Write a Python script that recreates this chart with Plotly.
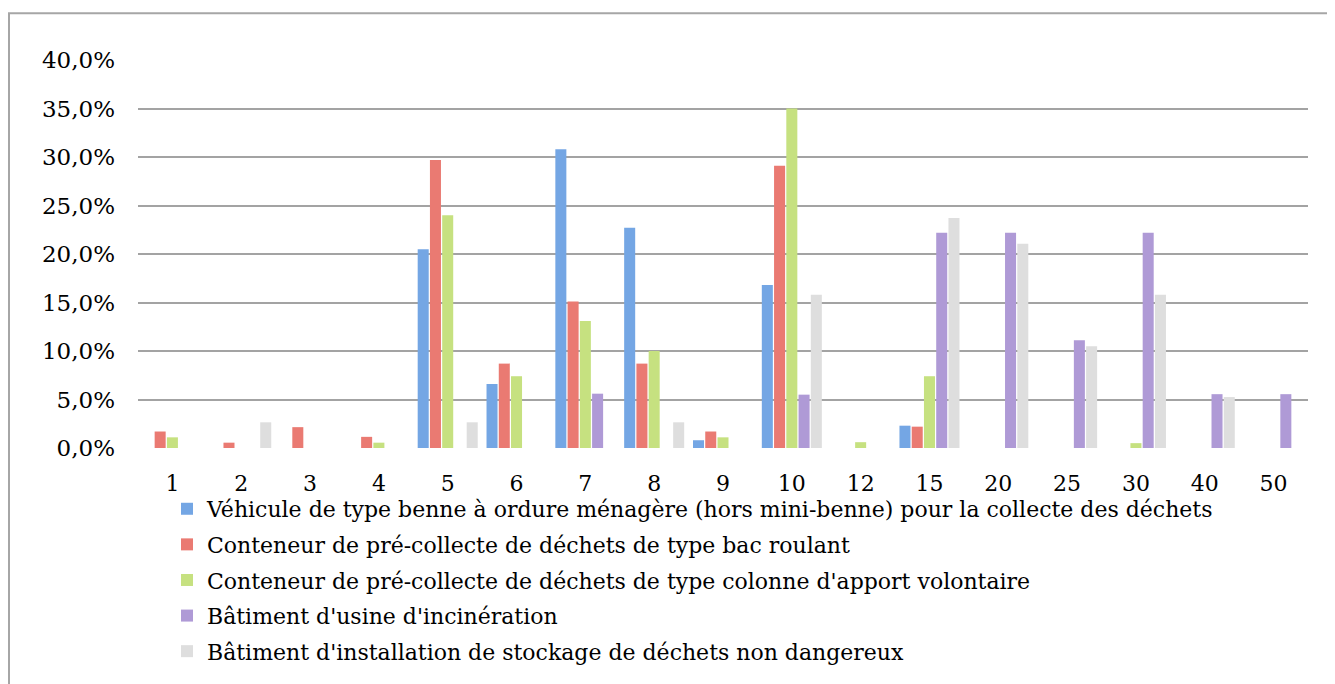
import plotly.graph_objects as go

# categories (x axis)
categories = ["1", "2", "3", "4", "5", "6", "7", "8", "9", "10",
              "12", "15", "20", "25", "30", "40", "50"]

# series values, in %
benne = [0, 0, 0, 0, 20.5, 6.6, 30.8, 22.7, 0.8, 16.8, 0, 2.3, 0, 0, 0, 0, 0]
bac_roulant = [1.7, 0.55, 2.15, 1.15, 29.7, 8.7, 15.1, 8.7, 1.7, 29.1, 0, 2.2, 0, 0, 0, 0, 0]
colonne = [1.1, 0, 0, 0.55, 24.0, 7.4, 13.1, 10.0, 1.1, 35.0, 0.6, 7.4, 0, 0, 0.5, 0, 0]
incineration = [0, 0, 0, 0, 0, 0, 5.6, 0, 0, 5.5, 0, 22.2, 22.2, 11.1, 22.2, 5.55, 5.55]
stockage = [0, 2.65, 0, 0, 2.65, 0, 0, 2.65, 0, 15.8, 0, 23.7, 21.05, 10.5, 15.8, 5.25, 0]

series = [
    ("Véhicule de type benne à ordure ménagère (hors mini-benne) pour la collecte des déchets", benne, "#74a6e4"),
    ("Conteneur de pré-collecte de déchets de type bac roulant", bac_roulant, "#ea7a72"),
    ("Conteneur de pré-collecte de déchets de type colonne d'apport volontaire", colonne, "#c6e180"),
    ("Bâtiment d'usine d'incinération", incineration, "#af9ad6"),
    ("Bâtiment d'installation de stockage de déchets non dangereux", stockage, "#dedede"),
]

fig = go.Figure()
for i, (name, vals, color) in enumerate(series):
    fig.add_trace(
        go.Bar(
            x=categories,
            y=[v / 100 for v in vals],
            name=name,
            marker=dict(color=color, line=dict(width=0)),
            legendgroup=str(i),
        )
    )

font_family = "DejaVu Serif"

# the page body has an 8px margin, so the figure is 8px smaller than the window
W, H = 1327, 676
left, right, top, zero = 130, 1300, 52, 450
pw, ph = right - left, zero - top

fig.update_layout(
    width=W,
    height=H,
    margin=dict(l=left, r=W - right, t=top, b=H - zero),
    plot_bgcolor="white",
    paper_bgcolor="white",
    barmode="group",
    bargap=0.11,
    bargroupgap=0.1,
    separators=", ",
    font=dict(family=font_family, size=22, color="black"),
    legend=dict(
        orientation="v",
        x=(159 - left) / pw,
        xanchor="left",
        y=(zero - 491) / ph,
        yanchor="top",
        font=dict(family=font_family, size=22, color="black"),
        tracegroupgap=4,
        bgcolor="rgba(0,0,0,0)",
    ),
    shapes=[
        dict(
            type="rect", xref="paper", yref="paper",
            x0=(1 - left) / pw, x1=(W + 20 - left) / pw,
            y0=(zero - H - 20) / ph, y1=(zero - 4) / ph,
            line=dict(color="#a6a6a6", width=2),
            fillcolor="rgba(0,0,0,0)",
            layer="below",
        )
    ],
)

fig.update_yaxes(
    range=[0, 0.40],
    dtick=0.05,
    tickformat=".1%",
    tickfont=dict(size=23),
    showgrid=True,
    gridcolor="#a3a3a3",
    gridwidth=1.5,
    zeroline=False,
    showline=False,
    ticklabelstandoff=22,
)

fig.update_xaxes(
    type="category",
    categoryorder="array",
    categoryarray=categories,
    showline=False,
    showgrid=False,
    ticks="",
    ticklabelstandoff=20,
)

fig.write_html("out.html")
